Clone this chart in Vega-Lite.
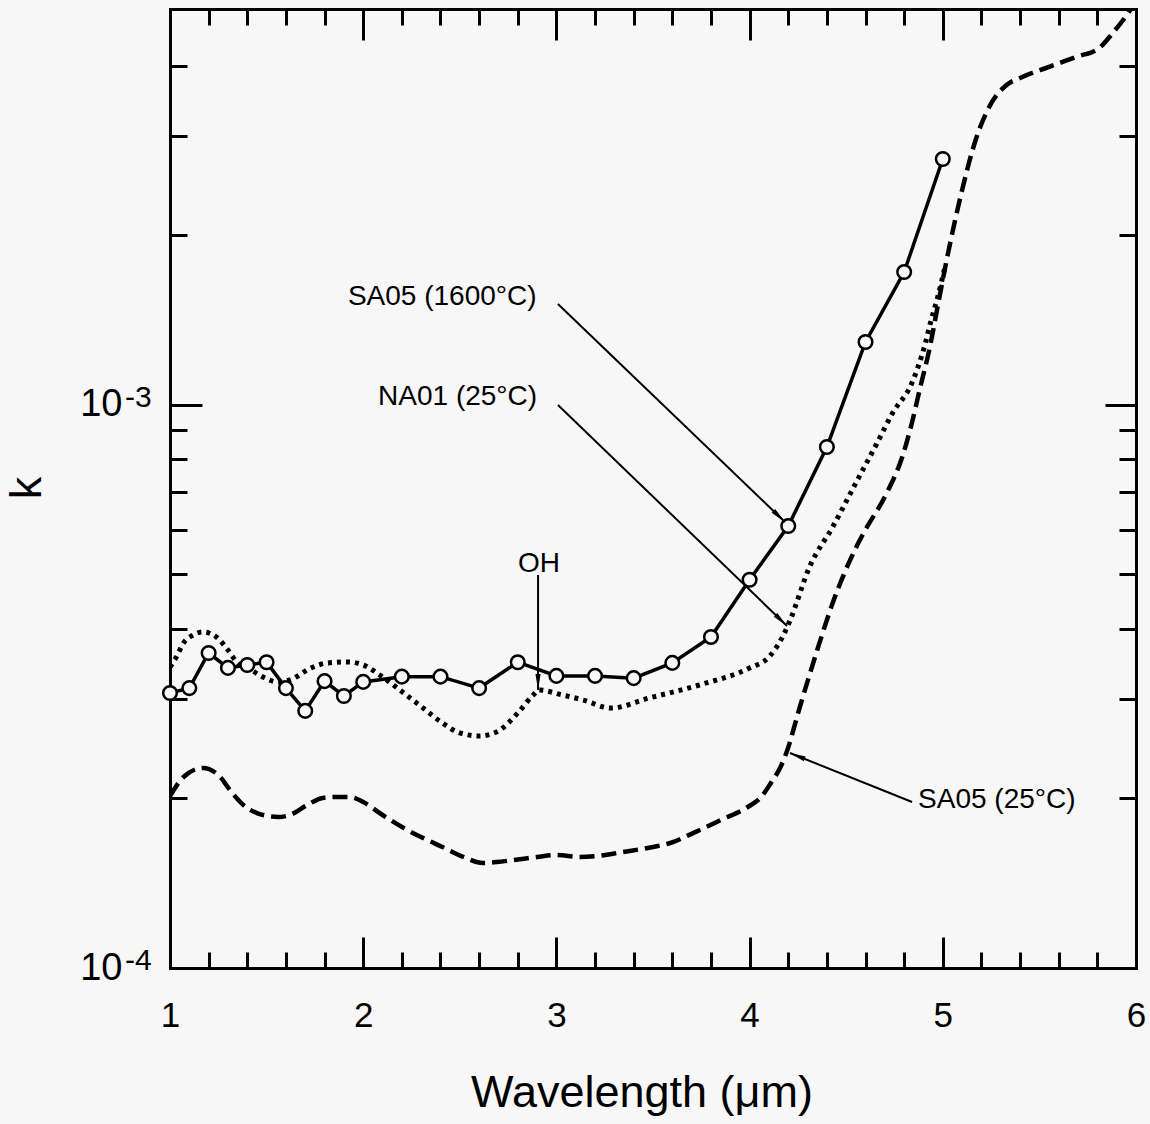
{
  "$schema": "https://vega.github.io/schema/vega-lite/v6.json",
  "width": 966,
  "height": 959,
  "autosize": {"type": "none"},
  "padding": {"left": 170, "top": 9, "right": 14, "bottom": 156},
  "background": "#f7f7f7",
  "config": {
    "view": {"stroke": null},
    "font": "Liberation Sans",
    "axis": {
      "grid": false,
      "domainColor": "#000000",
      "domainWidth": 3,
      "domainCap": "square",
      "tickColor": "#000000",
      "tickWidth": 3,
      "labelColor": "#000000",
      "labelFont": "Liberation Sans",
      "titleFont": "Liberation Sans",
      "titleFontWeight": "normal",
      "titleColor": "#000000"
    }
  },
  "datasets": {
    "sa25": [
      {"w": 1.0, "k": 0.000202}, {"w": 1.07, "k": 0.0002183}, {"w": 1.17, "k": 0.0002265}, {"w": 1.26, "k": 0.0002183},
      {"w": 1.31, "k": 0.000207}, {"w": 1.38, "k": 0.0001947}, {"w": 1.45, "k": 0.0001884}, {"w": 1.56, "k": 0.0001854},
      {"w": 1.62, "k": 0.0001869}, {"w": 1.71, "k": 0.0001947}, {"w": 1.79, "k": 0.0002004}, {"w": 1.87, "k": 0.0002012},
      {"w": 1.93, "k": 0.0002012}, {"w": 2.0, "k": 0.0001971}, {"w": 2.1, "k": 0.0001869}, {"w": 2.21, "k": 0.0001772},
      {"w": 2.31, "k": 0.0001701}, {"w": 2.41, "k": 0.000164}, {"w": 2.52, "k": 0.0001574}, {"w": 2.62, "k": 0.0001536},
      {"w": 2.69, "k": 0.0001542}, {"w": 2.78, "k": 0.0001555}, {"w": 2.9, "k": 0.0001574}, {"w": 3.0, "k": 0.0001587},
      {"w": 3.12, "k": 0.0001574}, {"w": 3.21, "k": 0.000158}, {"w": 3.34, "k": 0.0001606}, {"w": 3.5, "k": 0.000164},
      {"w": 3.59, "k": 0.0001667}, {"w": 3.71, "k": 0.0001737}, {"w": 3.85, "k": 0.0001831}, {"w": 3.99, "k": 0.0001931},
      {"w": 4.06, "k": 0.0002012}, {"w": 4.11, "k": 0.000213}, {"w": 4.16, "k": 0.0002274}, {"w": 4.19, "k": 0.0002408},
      {"w": 4.26, "k": 0.0002906}, {"w": 4.35, "k": 0.0003668}, {"w": 4.43, "k": 0.0004446}, {"w": 4.55, "k": 0.0005568},
      {"w": 4.59, "k": 0.0005918}, {"w": 4.71, "k": 0.000697}, {"w": 4.79, "k": 0.0008074}, {"w": 4.84, "k": 0.000928},
      {"w": 4.88, "k": 0.001062}, {"w": 4.93, "k": 0.001251}, {"w": 4.98, "k": 0.001535}, {"w": 5.02, "k": 0.001806},
      {"w": 5.1, "k": 0.002405}, {"w": 5.17, "k": 0.002951}, {"w": 5.24, "k": 0.003377}, {"w": 5.33, "k": 0.003695},
      {"w": 5.4, "k": 0.003802}, {"w": 5.55, "k": 0.003977}, {"w": 5.69, "k": 0.004143}, {"w": 5.81, "k": 0.004298},
      {"w": 5.88, "k": 0.00457}, {"w": 5.96, "k": 0.00496}, {"w": 6.0, "k": 0.0052}
    ],
    "na01": [
      {"w": 1.0, "k": 0.0003422}, {"w": 1.03, "k": 0.000355}, {"w": 1.07, "k": 0.0003776}, {"w": 1.12, "k": 0.0003901},
      {"w": 1.17, "k": 0.0003949}, {"w": 1.24, "k": 0.0003869}, {"w": 1.3, "k": 0.0003668}, {"w": 1.35, "k": 0.0003478},
      {"w": 1.42, "k": 0.0003381}, {"w": 1.48, "k": 0.0003286}, {"w": 1.56, "k": 0.0003219}, {"w": 1.62, "k": 0.0003246},
      {"w": 1.73, "k": 0.0003409}, {"w": 1.81, "k": 0.0003478}, {"w": 1.92, "k": 0.0003493}, {"w": 2.0, "k": 0.0003451},
      {"w": 2.1, "k": 0.0003286}, {"w": 2.21, "k": 0.0003077}, {"w": 2.31, "k": 0.0002894}, {"w": 2.41, "k": 0.0002722},
      {"w": 2.5, "k": 0.0002614}, {"w": 2.6, "k": 0.0002582}, {"w": 2.69, "k": 0.0002624}, {"w": 2.8, "k": 0.0002836},
      {"w": 2.88, "k": 0.0003052}, {"w": 2.91, "k": 0.0003115}, {"w": 3.03, "k": 0.0003052}, {"w": 3.14, "k": 0.000299},
      {"w": 3.28, "k": 0.0002894}, {"w": 3.48, "k": 0.0003015}, {"w": 3.74, "k": 0.000318}, {"w": 4.0, "k": 0.0003409},
      {"w": 4.1, "k": 0.0003565}, {"w": 4.17, "k": 0.0003869}, {"w": 4.21, "k": 0.0004147}, {"w": 4.31, "k": 0.0005151},
      {"w": 4.43, "k": 0.0006066}, {"w": 4.55, "k": 0.0007261}, {"w": 4.66, "k": 0.0008551}, {"w": 4.74, "k": 0.0009667},
      {"w": 4.84, "k": 0.001093}, {"w": 4.91, "k": 0.001287}, {"w": 4.94, "k": 0.001414}, {"w": 4.97, "k": 0.001535},
      {"w": 5.01, "k": 0.001748}
    ],
    "sa1600": [
      {"w": 1.0, "k": 0.0003077}, {"w": 1.1, "k": 0.000314}, {"w": 1.2, "k": 0.0003624}, {"w": 1.3, "k": 0.000341},
      {"w": 1.4, "k": 0.000345}, {"w": 1.5, "k": 0.000349}, {"w": 1.6, "k": 0.000314}, {"w": 1.7, "k": 0.000286},
      {"w": 1.8, "k": 0.000323}, {"w": 1.9, "k": 0.000304}, {"w": 2.0, "k": 0.000322}, {"w": 2.2, "k": 0.000329},
      {"w": 2.4, "k": 0.000329}, {"w": 2.6, "k": 0.000314}, {"w": 2.8, "k": 0.000349}, {"w": 3.0, "k": 0.00033},
      {"w": 3.2, "k": 0.00033}, {"w": 3.4, "k": 0.000327}, {"w": 3.6, "k": 0.000348}, {"w": 3.8, "k": 0.000387},
      {"w": 4.0, "k": 0.000489}, {"w": 4.2, "k": 0.000609}, {"w": 4.4, "k": 0.000841}, {"w": 4.6, "k": 0.001292},
      {"w": 4.8, "k": 0.00172}, {"w": 5.0, "k": 0.00273}
    ],
    "arrows": [
      {"w": 3.008, "k": 0.001509, "w2": 4.183, "k2": 0.000619},
      {"w": 3.008, "k": 0.000999, "w2": 4.194, "k2": 0.0004047},
      {"w": 2.905, "k": 0.0004985, "w2": 2.905, "k2": 0.0003115},
      {"w": 4.841, "k": 0.0001971, "w2": 4.209, "k2": 0.0002408}
    ],
    "heads": [
      {"w": 4.153, "k": 0.0006333, "a": 134},
      {"w": 4.164, "k": 0.0004141, "a": 134},
      {"w": 2.905, "k": 0.0003219, "a": 180},
      {"w": 4.247, "k": 0.0002379, "a": 292}
    ],
    "labels": [
      {"w": 1.921, "k": 0.001503, "t": "SA05 (1600°C)"},
      {"w": 2.077, "k": 0.0009988, "t": "NA01 (25°C)"},
      {"w": 2.801, "k": 0.0005047, "t": "OH"},
      {"w": 4.872, "k": 0.0001923, "t": "SA05 (25°C)"}
    ],
    "sups": [
      {"w": 1, "k": 0.001, "t": "-3"},
      {"w": 1, "k": 0.0001, "t": "-4"}
    ]
  },
  "layer": [
    {
      "data": {"name": "sa25"},
      "mark": {"type": "line", "color": "#000000", "strokeWidth": 4.5, "strokeDash": [15, 7], "interpolate": "monotone", "clip": true},
      "encoding": {
        "x": {"field": "w", "type": "quantitative", "scale": {"domain": [1, 6], "nice": false, "zero": false},
          "axis": {"orient": "bottom", "values": [1, 2, 3, 4, 5, 6], "ticks": false, "domain": true, "labels": true, "format": "d",
            "labelFontSize": 35, "labelPadding": 30, "labelBaseline": "top", "labelAlign": "center", "labelFlush": false, "labelOverlap": false,
            "title": "Wavelength (μm)", "titleFontSize": 45, "titleX": 471.5, "titleY": 138, "titleBaseline": "alphabetic", "titleAlign": "center", "titleAnchor": null}},
        "y": {"field": "k", "type": "quantitative", "scale": {"type": "log", "domain": [0.0001, 0.00504], "nice": false},
          "axis": {"orient": "left", "values": [0.0001, 0.001], "ticks": false, "domain": true, "labelExpr": "'10'",
            "labelFontSize": 38, "labelPadding": 48, "labelAlign": "right", "labelBaseline": "middle", "labelOverlap": false, "labelFlush": false,
            "title": "k", "titleFontSize": 45, "titleX": -143.5, "titleY": 478.5, "titleAngle": -90, "titleBaseline": "middle", "titleAlign": "center"}}
      }
    },
    {
      "data": {"name": "na01"},
      "mark": {"type": "line", "color": "#000000", "strokeWidth": 5, "strokeDash": [4, 5], "interpolate": "monotone", "clip": true},
      "encoding": {
        "x": {"field": "w", "type": "quantitative", "scale": {"domain": [1, 6], "nice": false, "zero": false},
          "axis": {"orient": "bottom", "values": [1, 2, 3, 4, 5, 6], "tickSize": -31, "labels": false, "domain": false, "title": null}},
        "y": {"field": "k", "type": "quantitative", "scale": {"type": "log", "domain": [0.0001, 0.00504], "nice": false},
          "axis": {"orient": "left", "values": [0.0001, 0.001], "tickSize": -32, "labels": false, "domain": false, "title": null}}
      }
    },
    {
      "data": {"name": "sa1600"},
      "mark": {"type": "line", "color": "#000000", "strokeWidth": 3.5, "clip": true},
      "encoding": {
        "x": {"field": "w", "type": "quantitative", "scale": {"domain": [1, 6], "nice": false, "zero": false},
          "axis": {"orient": "bottom", "values": [1.2, 1.4, 1.6, 1.8, 2.2, 2.4, 2.6, 2.8, 3.2, 3.4, 3.6, 3.8, 4.2, 4.4, 4.6, 4.8, 5.2, 5.4, 5.6, 5.8], "tickSize": -16, "labels": false, "domain": false, "title": null}},
        "y": {"field": "k", "type": "quantitative", "scale": {"type": "log", "domain": [0.0001, 0.00504], "nice": false},
          "axis": {"orient": "left", "values": [0.0002, 0.0003, 0.0004, 0.0005, 0.0006, 0.0007, 0.0008, 0.0009, 0.002, 0.003, 0.004], "tickSize": -17, "labels": false, "domain": false, "title": null}}
      }
    },
    {
      "data": {"name": "sa1600"},
      "mark": {"type": "point", "shape": "circle", "filled": true, "fill": "#f7f7f7", "stroke": "#000000", "strokeWidth": 2.5, "size": 185, "opacity": 1},
      "encoding": {
        "x": {"field": "w", "type": "quantitative", "scale": {"domain": [1, 6], "nice": false, "zero": false},
          "axis": {"orient": "top", "values": [1, 2, 3, 4, 5, 6], "tickSize": -31, "labels": false, "domain": true, "title": null}},
        "y": {"field": "k", "type": "quantitative", "scale": {"type": "log", "domain": [0.0001, 0.00504], "nice": false},
          "axis": {"orient": "right", "values": [0.0001, 0.001], "tickSize": -31, "labels": false, "domain": true, "title": null}}
      }
    },
    {
      "data": {"name": "arrows"},
      "mark": {"type": "rule", "color": "#000000", "strokeWidth": 2},
      "encoding": {
        "x": {"field": "w", "type": "quantitative", "scale": {"domain": [1, 6], "nice": false, "zero": false},
          "axis": {"orient": "top", "values": [1.2, 1.4, 1.6, 1.8, 2.2, 2.4, 2.6, 2.8, 3.2, 3.4, 3.6, 3.8, 4.2, 4.4, 4.6, 4.8, 5.2, 5.4, 5.6, 5.8], "tickSize": -16, "labels": false, "domain": false, "title": null}},
        "x2": {"field": "w2"},
        "y": {"field": "k", "type": "quantitative", "scale": {"type": "log", "domain": [0.0001, 0.00504], "nice": false},
          "axis": {"orient": "right", "values": [0.0002, 0.0003, 0.0004, 0.0005, 0.0006, 0.0007, 0.0008, 0.0009, 0.002, 0.003, 0.004], "tickSize": -17, "labels": false, "domain": false, "title": null}},
        "y2": {"field": "k2"}
      }
    },
    {
      "data": {"name": "heads"},
      "mark": {"type": "point", "shape": "M0,-1L0.32,1L-0.32,1Z", "filled": true, "color": "#000000", "size": 256, "opacity": 1},
      "encoding": {
        "x": {"field": "w", "type": "quantitative", "axis": null},
        "y": {"field": "k", "type": "quantitative", "axis": null},
        "angle": {"field": "a", "type": "quantitative", "scale": null}
      }
    },
    {
      "data": {"name": "labels"},
      "mark": {"type": "text", "align": "left", "baseline": "alphabetic", "fontSize": 28, "font": "Liberation Sans", "color": "#000000"},
      "encoding": {
        "x": {"field": "w", "type": "quantitative", "axis": null},
        "y": {"field": "k", "type": "quantitative", "axis": null},
        "text": {"field": "t"}
      }
    },
    {
      "data": {"name": "sups"},
      "mark": {"type": "text", "align": "left", "baseline": "alphabetic", "fontSize": 30, "font": "Liberation Sans", "color": "#000000", "dx": -45, "dy": 2},
      "encoding": {
        "x": {"field": "w", "type": "quantitative", "axis": null},
        "y": {"field": "k", "type": "quantitative", "axis": null},
        "text": {"field": "t"}
      }
    }
  ],
  "resolve": {"axis": {"x": "independent", "y": "independent"}}
}
